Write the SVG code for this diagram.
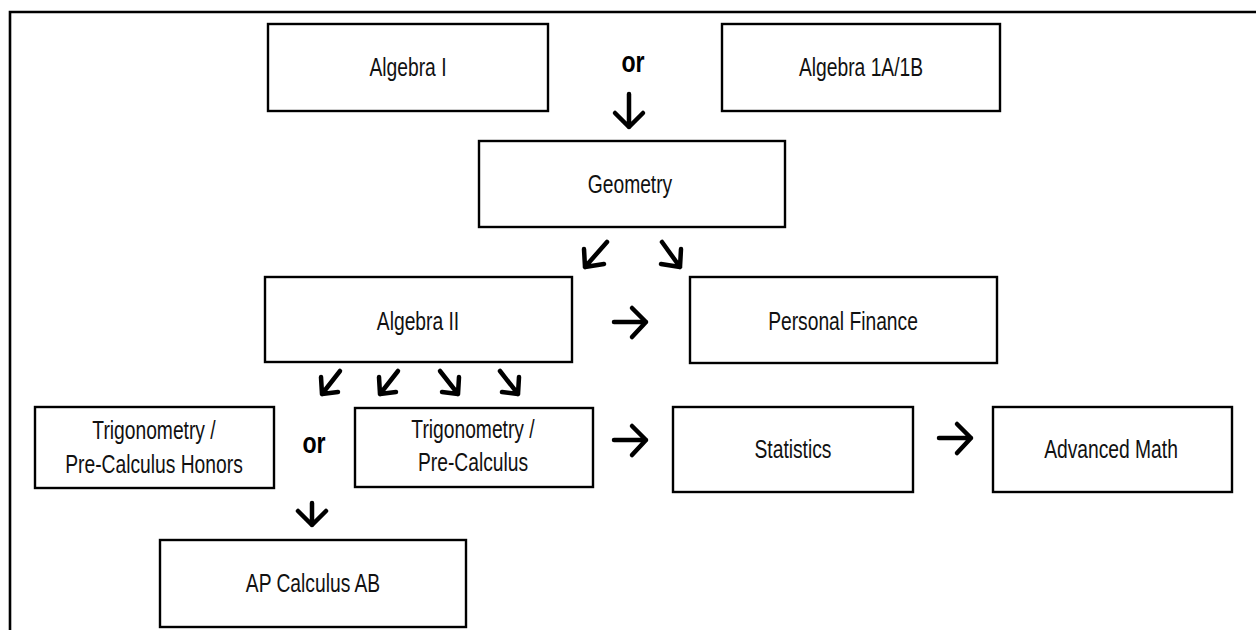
<svg xmlns="http://www.w3.org/2000/svg" width="1256" height="630" viewBox="0 0 1256 630">
  <style>
    .box { fill: #fff; stroke: #000; stroke-width: 2.4; }
    .lbl { font-family: "Liberation Sans", Arial, sans-serif; font-size: 25px; fill: #111; text-anchor: middle; }
    .or { font-family: "Liberation Sans", Arial, sans-serif; font-size: 30px; font-weight: bold; fill: #000; text-anchor: middle; }
    .arr { fill: none; stroke: #000; stroke-width: 4.5; stroke-linecap: round; stroke-linejoin: round; }
  </style>
  <rect width="1256" height="630" fill="#fff"/>
  <!-- outer frame, running off the right and bottom edges -->
  <path d="M10,640 V12 H1270" fill="none" stroke="#000" stroke-width="2.6"/>

  <!-- labels use a horizontally condensed sans: translate to the anchor, then squeeze -->
  <g id="algebra-1">
    <rect class="box" x="268" y="24" width="280" height="87"/>
    <text class="lbl" transform="translate(408,76) scale(0.77,1)">Algebra I</text>
  </g>
  <g id="algebra-1a-1b">
    <rect class="box" x="722" y="24" width="278" height="87"/>
    <text class="lbl" transform="translate(861,76) scale(0.77,1)">Algebra 1A/1B</text>
  </g>
  <g id="or-top">
    <text class="or" transform="translate(633,72) scale(0.77,1)">or</text>
  </g>
  <g id="geometry">
    <rect class="box" x="479" y="141" width="306" height="86"/>
    <text class="lbl" transform="translate(630,193) scale(0.77,1)">Geometry</text>
  </g>
  <g id="algebra-2">
    <rect class="box" x="265" y="277" width="307" height="85"/>
    <text class="lbl" transform="translate(418,330) scale(0.77,1)">Algebra II</text>
  </g>
  <g id="personal-finance">
    <rect class="box" x="690" y="277" width="307" height="86"/>
    <text class="lbl" transform="translate(843,330) scale(0.77,1)">Personal Finance</text>
  </g>
  <g id="trig-precalc-honors">
    <rect class="box" x="35" y="407" width="239" height="81"/>
    <text class="lbl" transform="translate(154,439) scale(0.77,1)">Trigonometry /</text>
    <text class="lbl" transform="translate(154,473) scale(0.77,1)">Pre-Calculus Honors</text>
  </g>
  <g id="or-bottom">
    <text class="or" transform="translate(314,453) scale(0.77,1)">or</text>
  </g>
  <g id="trig-precalc">
    <rect class="box" x="355" y="408" width="238" height="79"/>
    <text class="lbl" transform="translate(473,438) scale(0.77,1)">Trigonometry /</text>
    <text class="lbl" transform="translate(473,471) scale(0.77,1)">Pre-Calculus</text>
  </g>
  <g id="statistics">
    <rect class="box" x="673" y="407" width="240" height="85"/>
    <text class="lbl" transform="translate(793,458) scale(0.77,1)">Statistics</text>
  </g>
  <g id="advanced-math">
    <rect class="box" x="993" y="407" width="239" height="85"/>
    <text class="lbl" transform="translate(1111,458) scale(0.77,1)">Advanced Math</text>
  </g>
  <g id="ap-calculus-ab">
    <rect class="box" x="160" y="540" width="306" height="87"/>
    <text class="lbl" transform="translate(313,592) scale(0.77,1)">AP Calculus AB</text>
  </g>

  <g id="connectors">
    <!-- down: Algebra I / 1A-1B to Geometry -->
    <path class="arr" d="M629,94 V127 M615,113 L629,127 L643,113"/>
    <!-- Geometry to Algebra II (down-left) and Personal Finance (down-right) -->
    <path class="arr" d="M607,242 L585,267 M584,249 L585,267 L604,264"/>
    <path class="arr" d="M662,242 L680,267 M681,249 L680,267 L661,264"/>
    <!-- Algebra II to Personal Finance -->
    <path class="arr" d="M614,322 H646 M632,308 L646,322 L632,337"/>
    <!-- Algebra II fan-out to the trigonometry courses -->
    <path class="arr" d="M340,371 L322,394 M321,377 L322,394 L338,392"/>
    <path class="arr" d="M398,371 L380,394 M379,377 L380,394 L396,392"/>
    <path class="arr" d="M440,371 L458,394 M459,377 L458,394 L442,392"/>
    <path class="arr" d="M500,371 L518,394 M519,377 L518,394 L502,392"/>
    <!-- trigonometry to Statistics to Advanced Math -->
    <path class="arr" d="M614,440 H646 M632,426 L646,440 L632,455"/>
    <path class="arr" d="M939,438 H971 M957,424 L971,438 L957,453"/>
    <!-- down: trigonometry to AP Calculus AB -->
    <path class="arr" d="M312,503 V525 M298,511 L312,525 L326,511"/>
  </g>
</svg>
